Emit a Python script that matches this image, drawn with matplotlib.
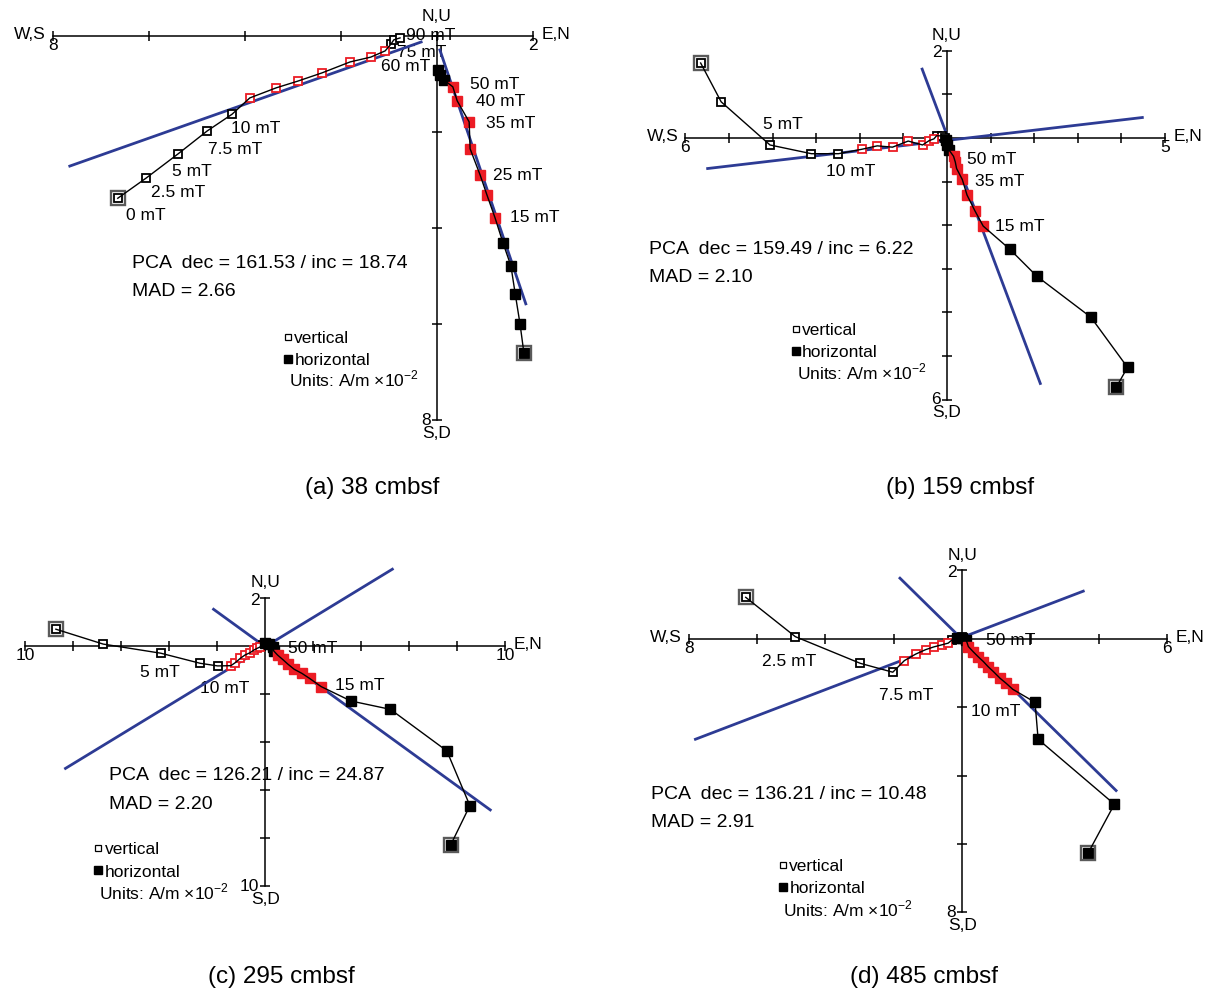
import numpy as np
import matplotlib.pyplot as plt
from matplotlib.lines import Line2D

plt.rcParams['font.family'] = ['Liberation Sans', 'DejaVu Sans']
plt.rcParams['mathtext.fontset'] = 'custom'
plt.rcParams['mathtext.rm'] = 'Liberation Sans'

RED = '#ec1c24'
BLUE = '#2d3b94'

# ---- data, units A/m x10^-2 ; first point = NRM ----
# (a) 38 cmbsf
a_vert_x = [-6.65, -6.06, -5.40, -4.79, -4.27, -3.90, -3.35, -2.90, -2.40, -1.81, -1.38, -1.08, -0.96, -0.90, -0.77]
a_vert_y = [-3.38, -2.96, -2.46, -1.98, -1.63, -1.29, -1.08, -0.94, -0.77, -0.54, -0.44, -0.31, -0.17, -0.08, -0.04]
a_hor_x = [1.81, 1.73, 1.63, 1.54, 1.375, 1.21, 1.04, 0.90, 0.69, 0.67, 0.42, 0.33, 0.15, 0.06, 0.02]
a_hor_y = [-6.60, -6.00, -5.375, -4.79, -4.31, -3.79, -3.31, -2.90, -2.35, -1.79, -1.35, -1.06, -0.92, -0.81, -0.71]
a_fit_v = ([-7.65, -0.33], [-2.71, -0.125])
a_fit_h = ([0.06, 1.85], [-0.29, -5.58])

# (b) 159 cmbsf
b_vert_x = [-5.65, -5.18, -4.06, -3.11, -2.49, -1.96, -1.60, -1.25, -0.89, -0.56, -0.41, -0.30, -0.24, -0.12, -0.04]
b_vert_y = [1.72, 0.83, -0.16, -0.36, -0.36, -0.26, -0.18, -0.21, -0.07, -0.16, -0.06, -0.02, 0.05, 0.05, 0.0]
b_hor_x = [3.88, 4.14, 3.30, 2.06, 1.44, 0.83, 0.64, 0.46, 0.35, 0.22, 0.19, 0.15, 0.05, 0.00, -0.02]
b_hor_y = [-5.72, -5.26, -4.11, -3.17, -2.55, -2.02, -1.67, -1.31, -0.95, -0.70, -0.55, -0.42, -0.28, -0.15, -0.05]
b_fit_v = ([-5.49, 4.48], [-0.70, 0.47])
b_fit_h = ([-0.57, 2.14], [1.58, -5.63])

# (c) 295 cmbsf
c_vert_x = [-8.73, -6.76, -4.36, -2.72, -1.99, -1.44, -1.25, -1.04, -0.85, -0.64, -0.48, -0.35, -0.24, -0.12, 0.00, 0.15]
c_vert_y = [0.70, 0.08, -0.30, -0.72, -0.83, -0.82, -0.69, -0.51, -0.375, -0.28, -0.17, -0.10, -0.05, 0.05, 0.12, 0.10]
c_hor_x = [7.72, 8.52, 7.56, 5.21, 3.56, 2.32, 1.84, 1.52, 1.20, 0.93, 0.72, 0.51, 0.35, 0.30, 0.15, 0.00]
c_hor_y = [-8.29, -6.65, -4.37, -2.64, -2.29, -1.69, -1.35, -1.14, -0.97, -0.75, -0.56, -0.38, -0.21, -0.05, 0.08, 0.12]
c_fit_v = ([-8.33, 5.29], [-5.10, 3.20])
c_fit_h = ([-2.16, 9.37], [1.53, -6.83])

# (d) 485 cmbsf
d_vert_x = [-6.33, -4.88, -2.98, -2.03, -1.69, -1.36, -1.07, -0.83, -0.60, -0.41, -0.30, -0.15, 0.00]
d_vert_y = [1.21, 0.06, -0.72, -0.98, -0.64, -0.45, -0.32, -0.24, -0.18, -0.13, -0.04, 0.03, 0.05]
d_hor_x = [3.68, 4.45, 2.22, 2.13, 1.48, 1.28, 1.11, 0.91, 0.76, 0.62, 0.47, 0.32, 0.18, 0.12, 0.00, -0.15]
d_hor_y = [-6.27, -4.84, -2.94, -1.86, -1.48, -1.30, -1.16, -0.96, -0.82, -0.67, -0.53, -0.38, -0.23, -0.05, 0.03, 0.03]
d_fit_v = ([-7.80, 3.54], [-2.94, 1.39])
d_fit_h = ([-1.82, 4.50], [1.77, -4.44])

pca_text = ['PCA  dec = 161.53 / inc = 18.74', 'PCA  dec = 159.49 / inc = 6.22',
            'PCA  dec = 126.21 / inc = 24.87', 'PCA  dec = 136.21 / inc = 10.48']
mad_text = ['MAD = 2.66', 'MAD = 2.10', 'MAD = 2.20', 'MAD = 2.91']
captions = ['(a) 38 cmbsf', '(b) 159 cmbsf', '(c) 295 cmbsf', '(d) 485 cmbsf']

# ---- layout (pixels of the 1209x997 canvas) ----
W, H = 1209, 997
panels = [
    dict(vx=a_vert_x, vy=a_vert_y, hx=a_hor_x, hy=a_hor_y, vred=(5, 12), hred=(5, 12),
         fits=[a_fit_v, a_fit_h], box=(0, 0, 604, 500), origin=(437, 36), scale=48,
         xr=(-8, 2), yr=(-8, 0), step=2, west='W,S', nums=('8', '2', None, '8'), nu_pad=9,
         labels=[('0 mT', -6.48, -3.74), ('2.5 mT', -5.96, -3.26), ('5 mT', -5.52, -2.83),
                 ('7.5 mT', -4.78, -2.36), ('10 mT', -4.30, -1.92), ('60 mT', -1.17, -0.64),
                 ('75 mT', -0.83, -0.34), ('90 mT', -0.64, 0.02), ('50 mT', 0.69, -1.01),
                 ('40 mT', 0.82, -1.37), ('35 mT', 1.03, -1.82), ('25 mT', 1.17, -2.90),
                 ('15 mT', 1.53, -3.79)],
         pca=(-6.36, -4.74, -5.33), key=(-3.19, -6.14), units=(-3.08, -7.14), cap=(372, 488)),
    dict(vx=b_vert_x, vy=b_vert_y, hx=b_hor_x, hy=b_hor_y, vred=(5, 12), hred=(5, 12),
         fits=[b_fit_v, b_fit_h], box=(604, 0, 1209, 500), origin=(947, 138), scale=43.6,
         xr=(-6, 5), yr=(-6, 2), step=1, west='W,S', nums=('6', '5', '2', '6'), nu_pad=5.5,
         labels=[('5 mT', -4.22, 0.30), ('10 mT', -2.77, -0.77), ('50 mT', 0.46, -0.50),
                 ('35 mT', 0.64, -0.99), ('15 mT', 1.10, -2.03)],
         pca=(-6.84, -2.55, -3.19), key=(-3.56, -4.23), units=(-3.44, -5.38), cap=(960, 488)),
    dict(vx=c_vert_x, vy=c_vert_y, hx=c_hor_x, hy=c_hor_y, vred=(5, 13), hred=(5, 12),
         fits=[c_fit_v, c_fit_h], box=(0, 500, 604, 997), origin=(265.4, 646), scale=24,
         xr=(-10, 10), yr=(-10, 2), step=2, west=None, nums=('10', '10', '2', '10'), nu_pad=5.5,
         labels=[('5 mT', -5.21, -1.10), ('10 mT', -2.73, -1.76), ('50 mT', 0.96, -0.10),
                 ('15 mT', 2.88, -1.63)],
         pca=(-6.53, -5.40, -6.60), key=(-7.13, -8.18), units=(-6.93, -10.24), cap=(281, 977)),
    dict(vx=d_vert_x, vy=d_vert_y, hx=d_hor_x, hy=d_hor_y, vred=(4, 10), hred=(4, 13),
         fits=[d_fit_v, d_fit_h], box=(604, 500, 1209, 997), origin=(962.2, 638.7), scale=34.2,
         xr=(-8, 6), yr=(-8, 2), step=2, west='W,S', nums=('8', '6', '2', '8'), nu_pad=5.5,
         labels=[('2.5 mT', -5.85, -0.67), ('7.5 mT', -2.43, -1.65), ('10 mT', 0.27, -2.13),
                 ('50 mT', 0.71, -0.04)],
         pca=(-9.11, -4.57, -5.38), key=(-5.36, -6.44), units=(-5.23, -7.91), cap=(924, 977)),
]

fig = plt.figure(figsize=(W / 100, H / 100), dpi=100)


def make_axes(box, origin, scale):
    x0, y0, x1, y1 = box
    ox, oy = origin
    ax = fig.add_axes([x0 / W, 1 - y1 / H, (x1 - x0) / W, (y1 - y0) / H])
    ax.set_xlim((x0 - ox) / scale, (x1 - ox) / scale)
    ax.set_ylim(-(y1 - oy) / scale, -(y0 - oy) / scale)
    ax.set_axis_off()
    return ax


def draw_cross(ax, p):
    xr, yr, step = p['xr'], p['yr'], p['step']
    ax.plot(xr, [0, 0], color='black', lw=1.1, zorder=1)
    ax.plot([0, 0], yr, color='black', lw=1.1, zorder=1)
    xt = np.arange(xr[0], xr[1] + step / 2, step)
    yt = np.arange(yr[0], yr[1] + step / 2, step)
    ax.plot(xt, np.zeros_like(xt), ls='none', marker='|', ms=7, mew=1.1, color='black', zorder=1)
    ax.plot(np.zeros_like(yt), yt, ls='none', marker='_', ms=7, mew=1.1, color='black', zorder=1)
    kw = dict(textcoords='offset points', fontsize=12.5)
    nl, nr, nt, nb = p['nums']
    if p['west']:
        ax.annotate(p['west'], (xr[0], 0), xytext=(-5, 1), ha='right', va='center', **kw)
    ax.annotate(nl, (xr[0], 0), xytext=(0, -1.5), ha='center', va='top', **kw)
    ax.annotate('E,N', (xr[1], 0), xytext=(6, 1), ha='left', va='center', **kw)
    ax.annotate(nr, (xr[1], 0), xytext=(0, -1.5), ha='center', va='top', **kw)
    ax.annotate('N,U', (0, yr[1]), xytext=(0, p['nu_pad']), ha='center', va='bottom', **kw)
    if nt:
        ax.annotate(nt, (0, yr[1]), xytext=(-4, -1.5), ha='right', va='center', **kw)
    ax.annotate(nb, (0, yr[0]), xytext=(-4.5, 0), ha='right', va='center', **kw)
    ax.annotate('S,D', (0, yr[0]), xytext=(0, -4), ha='center', va='top', **kw)


def draw_projection(ax, xs, ys, red, filled):
    xs, ys = np.asarray(xs), np.asarray(ys)
    r0, r1 = red
    black = np.r_[0:r0, r1:len(xs)]
    if filled:
        ax.plot(xs[black], ys[black], ls='none', marker='s', ms=7.2, mfc='black', mec='black', zorder=3)
        ax.plot(xs[r0:r1], ys[r0:r1], ls='none', marker='s', ms=7, mfc=RED, mec=RED, zorder=3)
    else:
        ax.plot(xs[black], ys[black], ls='none', marker='s', ms=6.2, mfc='white', mec='black', mew=1.3, zorder=3)
        ax.plot(xs[r0:r1], ys[r0:r1], ls='none', marker='s', ms=6.2, mfc='white', mec=RED, mew=1.3, zorder=3)
    # NRM frame
    ax.plot(xs[:1], ys[:1], ls='none', marker='s', ms=10.5, mfc='none', mec='#5a5a5a', mew=1.7, zorder=3)
    ax.plot(xs, ys, color='black', lw=1.0, zorder=4)


for i, p in enumerate(panels):
    ax = make_axes(p['box'], p['origin'], p['scale'])
    draw_cross(ax, p)
    for fx, fy in p['fits']:
        ax.plot(fx, fy, color=BLUE, lw=2.0, zorder=2)
    draw_projection(ax, p['vx'], p['vy'], p['vred'], filled=False)
    draw_projection(ax, p['hx'], p['hy'], p['hred'], filled=True)
    for txt, tx, ty in p['labels']:
        ax.text(tx, ty, txt, fontsize=12.5, ha='left', va='center', zorder=0)
    px, py1, py2 = p['pca']
    ax.text(px, py1, pca_text[i], fontsize=14, ha='left', va='center')
    ax.text(px, py2, mad_text[i], fontsize=14, ha='left', va='center')
    handles = [Line2D([], [], ls='none', marker='s', ms=4.5, mfc='white', mec='black', mew=0.9),
               Line2D([], [], ls='none', marker='s', ms=5.2, mfc='black', mec='black')]
    ax.legend(handles, ['vertical', 'horizontal'], loc='upper left', bbox_to_anchor=p['key'],
              bbox_transform=ax.transData, frameon=False, fontsize=12.5, handlelength=0.45,
              handletextpad=0.15, labelspacing=0.4, borderpad=0, borderaxespad=0)
    ux, uy = p['units']
    ax.text(ux, uy, 'Units: A/m \u00d710$^{-2}$', fontsize=12.5, ha='left', va='center')
    cx, cy = p['cap']
    fig.text(cx / W, 1 - cy / H, captions[i], fontsize=17.5, ha='center', va='center')

fig.savefig('out.png', dpi=100)
